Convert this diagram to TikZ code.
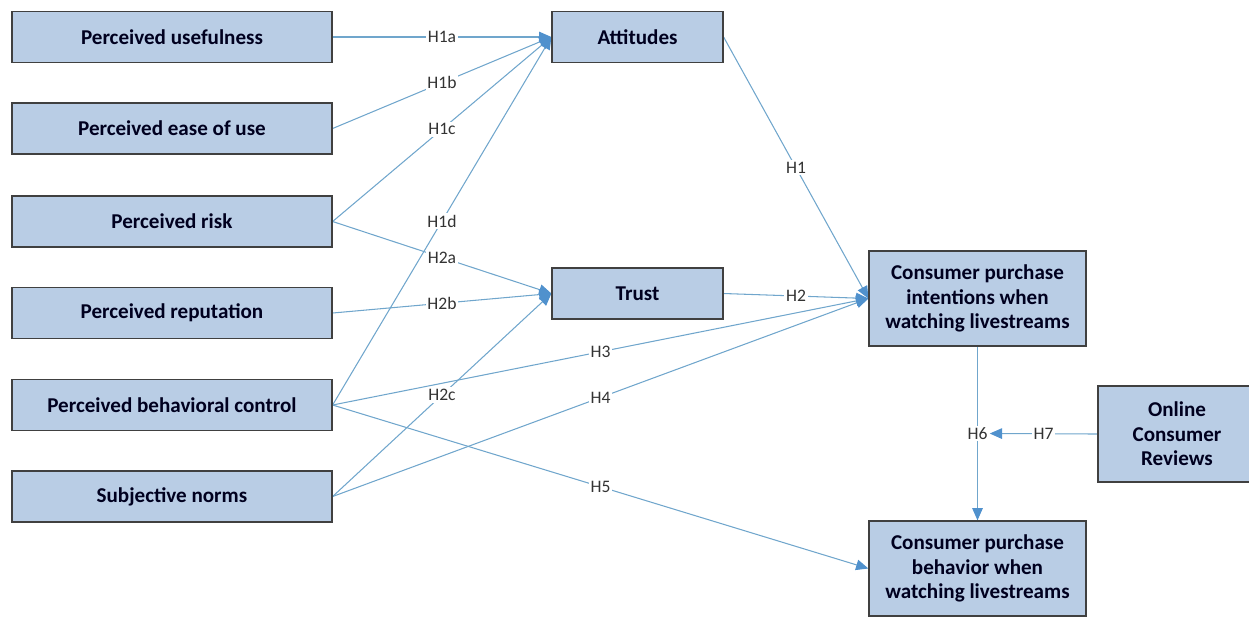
\documentclass[tikz,border=0pt]{standalone}
\usepackage{fontspec}
\setmainfont{Carlito}
\usetikzlibrary{arrows.meta}
\pgfdeclarelayer{edgelayer}
\pgfdeclarelayer{nodelayer}
\pgfsetlayers{edgelayer,nodelayer,main}
\definecolor{boxfill}{RGB}{185,205,229}
\definecolor{boxline}{RGB}{64,64,64}
\definecolor{linkblue}{RGB}{112,166,204}
\definecolor{tipblue}{RGB}{80,145,205}
\tikzstyle{none}=[inner sep=0pt]
\tikzstyle{factor}=[rectangle, fill=boxfill, draw=boxline, line width=0.7pt, minimum width=6.4cm, minimum height=1.02cm, font=\bfseries\fontsize{12}{14}\selectfont, text=black!88!blue, align=center]
\tikzstyle{construct}=[factor, minimum width=3.42cm]
\tikzstyle{outcome}=[factor, minimum width=4.34cm, minimum height=1.9cm]
\tikzstyle{link}=[draw=linkblue, line width=0.6pt, -{Triangle[length=7pt,width=6pt,color=tipblue]}]
\tikzstyle{hyp}=[midway, fill=white, inner sep=1pt, font=\fontsize{10}{12}\selectfont, text=black!80]

\begin{document}
\begin{tikzpicture}
	\useasboundingbox (0, 0) rectangle (24.98, -12.34);
	\begin{pgfonlayer}{nodelayer}
		\node [style=factor] (0) at (3.44, -0.74) {Perceived usefulness};
		\node [style=factor] (1) at (3.44, -2.57) {Perceived ease of use};
		\node [style=factor] (2) at (3.44, -4.43) {Perceived risk};
		\node [style=factor] (3) at (3.44, -6.26) {Perceived reputation};
		\node [style=factor] (4) at (3.44, -8.10) {Perceived behavioral control};
		\node [style=factor] (5) at (3.44, -9.93) {Subjective norms};
		\node [style=construct] (6) at (12.75, -0.74) {Attitudes};
		\node [style=construct] (7) at (12.75, -5.87) {Trust};
		\node [style=outcome] (8) at (19.55, -5.97) {Consumer purchase\\intentions when\\watching livestreams};
		\node [style=outcome] (9) at (19.55, -11.37) {Consumer purchase\\behavior when\\watching livestreams};
		\node [style=outcome, minimum width=3.16cm, minimum height=1.92cm] (10) at (23.54, -8.68) {Online\\Consumer\\Reviews};
	\end{pgfonlayer}
	\begin{pgfonlayer}{edgelayer}
		\draw [style=link] (0.east) to node [style=hyp] {H1a} (6.west);
		\draw [style=link] (1.east) to node [style=hyp] {H1b} (6.west);
		\draw [style=link] (2.east) to node [style=hyp] {H1c} (6.west);
		\draw [style=link] (4.east) to node [style=hyp] {H1d} (6.west);
		\draw [style=link] (2.east) to node [style=hyp] {H2a} (7.west);
		\draw [style=link] (3.east) to node [style=hyp] {H2b} (7.west);
		\draw [style=link] (5.east) to node [style=hyp] {H2c} (7.west);
		\draw [style=link] (6.east) to node [style=hyp] {H1} (8.west);
		\draw [style=link] (7.east) to node [style=hyp] {H2} (8.west);
		\draw [style=link] (4.east) to node [style=hyp] {H3} (8.west);
		\draw [style=link] (5.east) to node [style=hyp] {H4} (8.west);
		\draw [style=link] (4.east) to node [style=hyp] {H5} (9.west);
		\draw [style=link] (8.south) to node [style=hyp] (11) {H6} (9.north);
		\draw [style=link] (10.west) to node [style=hyp] {H7} (11.east);
	\end{pgfonlayer}
\end{tikzpicture}
\end{document}
